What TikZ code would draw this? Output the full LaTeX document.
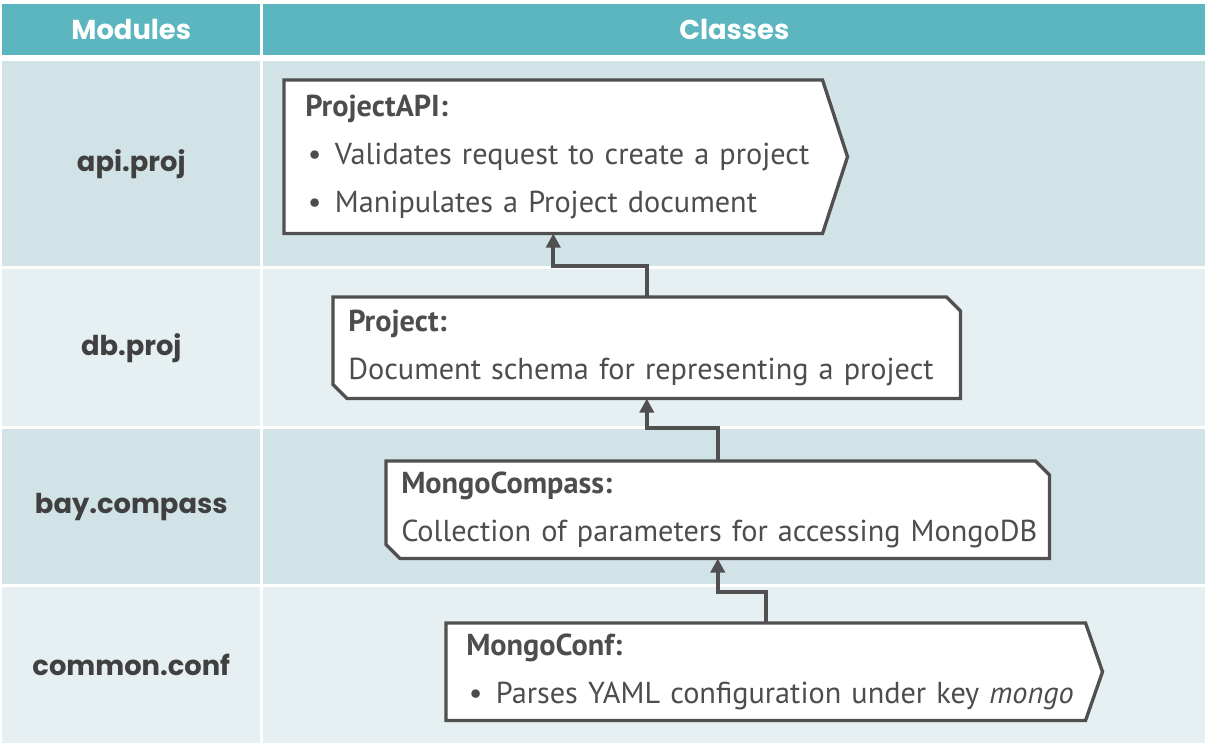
\documentclass[tikz,border=0pt]{standalone}
\usepackage{xcolor}
\usepackage{fontspec}
\setsansfont{PT Sans}
\newfontfamily\modfont{Poppins}
\usetikzlibrary{arrows.meta}

\definecolor{headteal}{RGB}{91,182,192}
\definecolor{rowdark}{RGB}{209,227,231}
\definecolor{rowlight}{RGB}{230,240,242}
\definecolor{linegray}{RGB}{80,80,80}
\definecolor{modgray}{RGB}{64,64,64}
\definecolor{clsgray}{RGB}{77,77,77}

\pgfdeclarelayer{bands}
\pgfdeclarelayer{frames}
\pgfsetlayers{bands,frames,main}

\newcommand{\clsitem}{\hspace*{2pt}\textbullet\hspace{10pt}}

\begin{document}
\begin{tikzpicture}[x=0.75pt, y=-0.75pt,
    >={Triangle[width=10.5pt,length=10.5pt]},
    head/.style={
      anchor=north west, inner sep=0pt, minimum height=38.25pt, fill=headteal,
      text=white, font=\modfont\bfseries\fontsize{20.5}{24}\selectfont
    },
    cell/.style={
      anchor=north west, inner sep=0pt, minimum width=193.5pt,
      text=modgray, font=\modfont\bfseries\fontsize{20.5}{24}\selectfont
    },
    cls/.style={
      anchor=north west, inner sep=0pt, align=left, text=clsgray,
      font=\sffamily\fontsize{22.7}{35.8}\selectfont,
      execute at begin node={\leftskip=#1}
    },
    frame/.style={draw=linegray, line width=2.5pt, fill=white, line join=miter},
    link/.style={->, draw=linegray, line width=3.3pt}
  ]
  \useasboundingbox (0,0) rectangle (1211,748);

  % ===== Table: header and module rows =====
  \begin{pgfonlayer}{bands}
    \node[head, minimum width=193.5pt] (hmod) at (2,4) {Modules};
    \node[head, minimum width=706.5pt] (hcls) at (263,4) {Classes};

    \node[cell, fill=rowdark, minimum height=153.75pt] (mapi) at (2,61) {api.proj};
    \fill[rowdark] (263,61) rectangle (1205,266);

    \node[cell, fill=rowlight, minimum height=117.75pt] (mdb) at (2,269) {db.proj};
    \fill[rowlight] (263,269) rectangle (1205,426);

    \node[cell, fill=rowdark, minimum height=116.25pt] (mbay) at (2,429) {bay.compass};
    \fill[rowdark] (263,429) rectangle (1205,584);

    \node[cell, fill=rowlight, minimum height=117pt] (mcommon) at (2,587) {common.conf};
    \fill[rowlight] (263,587) rectangle (1205,743);
  \end{pgfonlayer}

  % ===== Classes =====
  \node[cls=15.75pt, text width=403.5pt, minimum height=114.75pt] (api) at (284,80) {
    \textbf{ProjectAPI:}\\
    \clsitem Validates request to create a project\\
    \clsitem Manipulates a Project document
  };

  \node[cls=11.25pt, text width=470.25pt, minimum height=75.75pt] (proj) at (333,297) {
    \textbf{Project:}\\
    Document schema for representing a project
  };

  \node[cls=11.25pt, text width=497.25pt, minimum height=72.75pt] (compass) at (386,461) {
    \textbf{MongoCompass:}\\
    Collection of parameters for accessing MongoDB
  };

  \node[cls=15pt, text width=479.25pt, minimum height=72.75pt] (conf) at (446,623) {
    \textbf{MongoConf:}\\
    \clsitem Parses YAML configuration under key \textit{mongo}
  };

  % outlines behind the class texts
  \begin{pgfonlayer}{frames}
    \draw[frame] (api.north west) -- (api.north east) -- ([xshift=18.75pt]api.east)
      -- (api.south east) -- (api.south west) -- cycle;
    \draw[frame] (proj.north west) -- ([xshift=-10.5pt]proj.north east)
      -- ([yshift=-10.5pt]proj.north east) -- (proj.south east)
      -- ([xshift=10.5pt]proj.south west) -- ([yshift=10.5pt]proj.south west) -- cycle;
    \draw[frame] (compass.north west) -- ([xshift=-10.5pt]compass.north east)
      -- ([yshift=-10.5pt]compass.north east) -- (compass.south east)
      -- ([xshift=10.5pt]compass.south west) -- ([yshift=10.5pt]compass.south west) -- cycle;
    \draw[frame] (conf.north west) -- (conf.north east) -- ([xshift=12.75pt]conf.east)
      -- (conf.south east) -- (conf.south west) -- cycle;
  \end{pgfonlayer}

  % ===== Dependencies =====
  \draw[link] (proj.north) -- ++(0,-31) -| (api.south);
  \draw[link] (compass.north) -- ++(0,-33) -| (proj.south);
  \draw[link] (conf.north) -- ++(0,-31) -| (compass.south);

\end{tikzpicture}
\end{document}
